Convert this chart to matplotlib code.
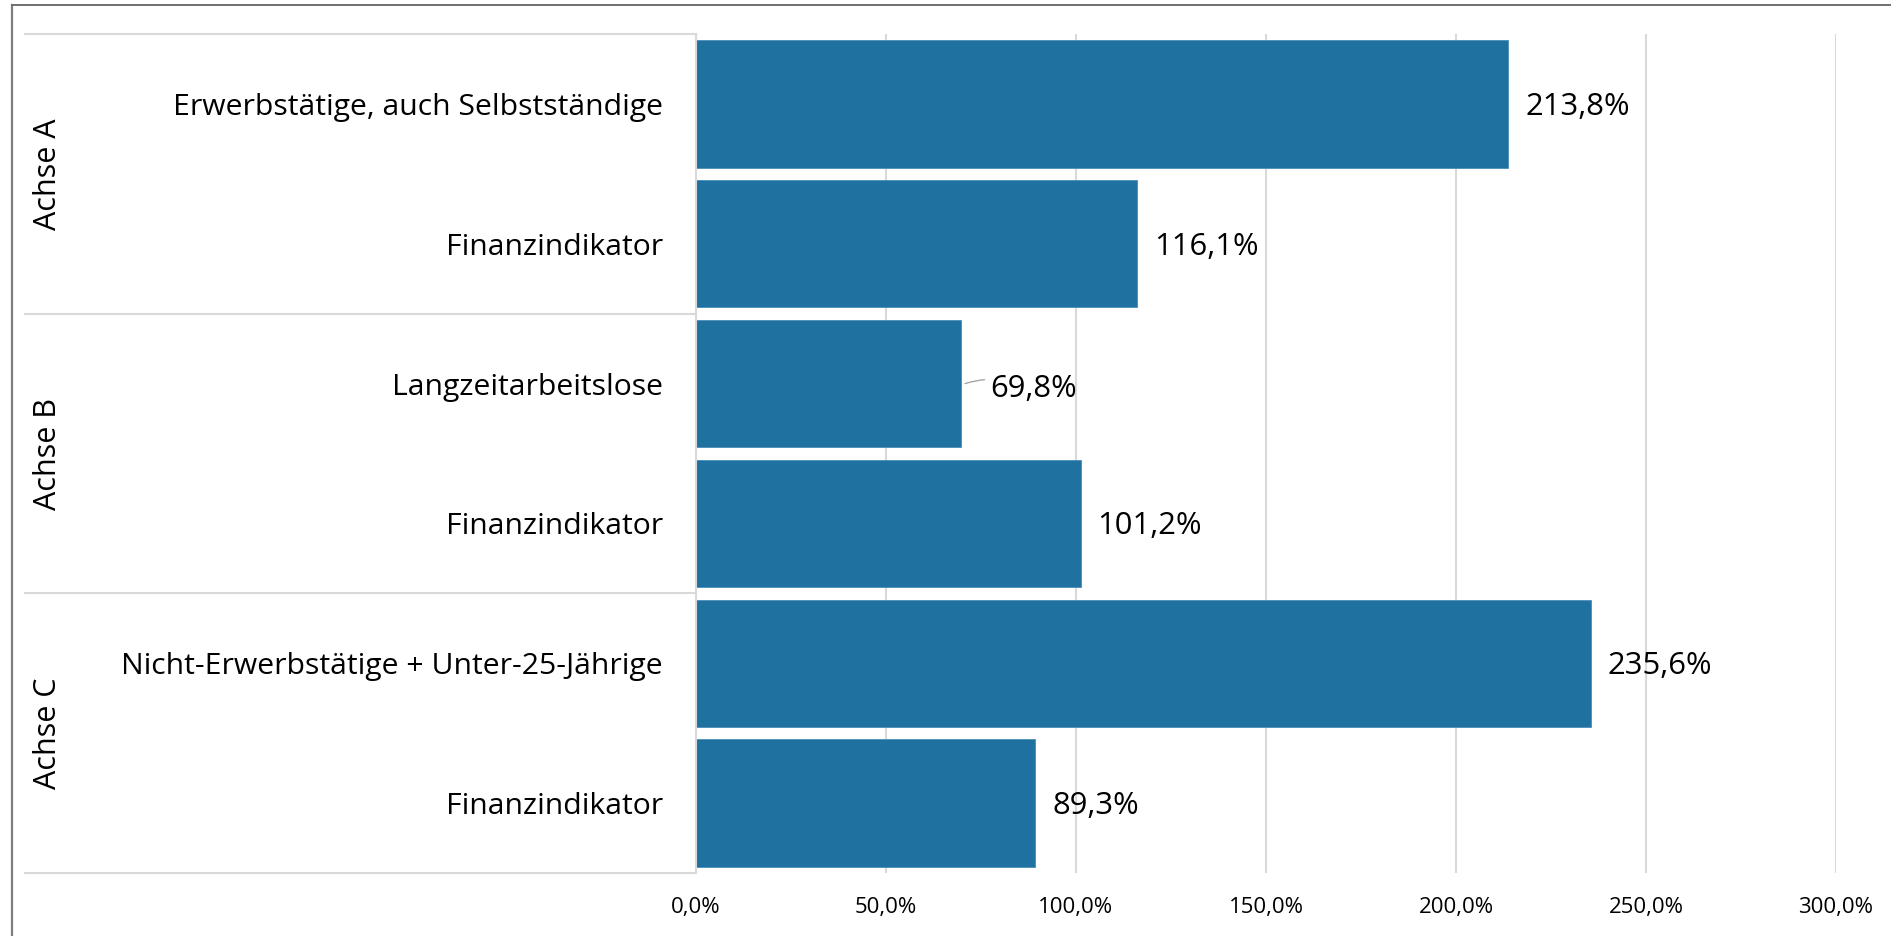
import matplotlib
matplotlib.use("Agg")
import matplotlib.pyplot as plt
from matplotlib.lines import Line2D
from matplotlib.ticker import FuncFormatter

# ---- DATA

groups = ["Achse A", "Achse B", "Achse C"]
categories = [
    "Erwerbstätige, auch Selbstständige",
    "Finanzindikator",
    "Langzeitarbeitslose",
    "Finanzindikator",
    "Nicht-Erwerbstätige + Unter-25-Jährige",
    "Finanzindikator",
]
values = [213.8, 116.1, 69.8, 101.2, 235.6, 89.3]
xticks = [0, 50, 100, 150, 200, 250, 300]

# ---- STYLE

plt.rcParams['font.family'] = ['Open Sans', 'DejaVu Sans']
bar_color = '#1f72a0'
grid_color = '#d9d9d9'

W, H, dpi = 1891, 936, 100
fig = plt.figure(figsize=(W / dpi, H / dpi), dpi=dpi)

# axes placed in pixel terms of the reference
x0, x1, y0, y1 = 696, 1836, 34, 873
ax = fig.add_axes([x0 / W, 1 - y1 / H, (x1 - x0) / W, (y1 - y0) / H])

pos = list(range(len(categories)))
ax.barh(pos, values, height=0.91, color=bar_color,
        edgecolor='#4a8fb8', linewidth=0.6, zorder=3)

ax.set_xlim(0, 300)
ax.set_ylim(len(categories) - 0.5, -0.5)
ax.set_xticks(xticks)
ax.xaxis.set_major_formatter(FuncFormatter(lambda v, p: f"{v:.1f}".replace('.', ',') + '%'))
ax.set_yticks(pos)
ax.set_yticklabels(categories, fontsize=21.7)
ax.tick_params(axis='y', length=0, pad=24)
ax.tick_params(axis='x', length=0, pad=17, labelsize=16)
ax.grid(axis='x', color=grid_color, linewidth=1.5, zorder=0)

for s in ['top', 'right', 'bottom']:
    ax.spines[s].set_visible(False)
ax.spines['left'].set_color(grid_color)
ax.spines['left'].set_linewidth(1.5)
ax.spines['left'].set_zorder(4)

# value labels
for i, v in enumerate(values):
    label = f"{v:.1f}".replace('.', ',') + '%'
    if i == 2:
        # small leader line like the original
        ax.annotate(label, xy=(v + 1, i), xytext=(18, -4), textcoords='offset points',
                    ha='left', va='center', fontsize=22.3,
                    arrowprops=dict(arrowstyle='-', color='#a6a6a6', lw=1,
                                    connectionstyle='arc3,rad=0.2', shrinkA=2, shrinkB=0))
    else:
        ax.annotate(label, xy=(v, i), xytext=(12, -2), textcoords='offset points',
                    ha='left', va='center', fontsize=22.3)

# group separators and group labels on the left
ytr = ax.get_yaxis_transform()
left_frac = (25 - x0) / (x1 - x0)
for yb in [-0.5, 1.5, 3.5, 5.5]:
    ax.plot([left_frac, 0], [yb, yb], color=grid_color, lw=1.5,
            transform=ytr, clip_on=False, zorder=4)

for g, name in enumerate(groups):
    ax.text((48 - x0) / (x1 - x0), 2 * g + 0.5, name, transform=ytr,
            rotation=90, ha='center', va='center', fontsize=22)

# outer frame (only left and top are visible in the picture)
fig.add_artist(Line2D([12 / W, 12 / W], [0, 1 - 5 / H], color='#7f7f7f', lw=1.6))
fig.add_artist(Line2D([12 / W, 1], [1 - 5 / H, 1 - 5 / H], color='#6f6f6f', lw=1.4))

fig.savefig('out.png', dpi=dpi)
